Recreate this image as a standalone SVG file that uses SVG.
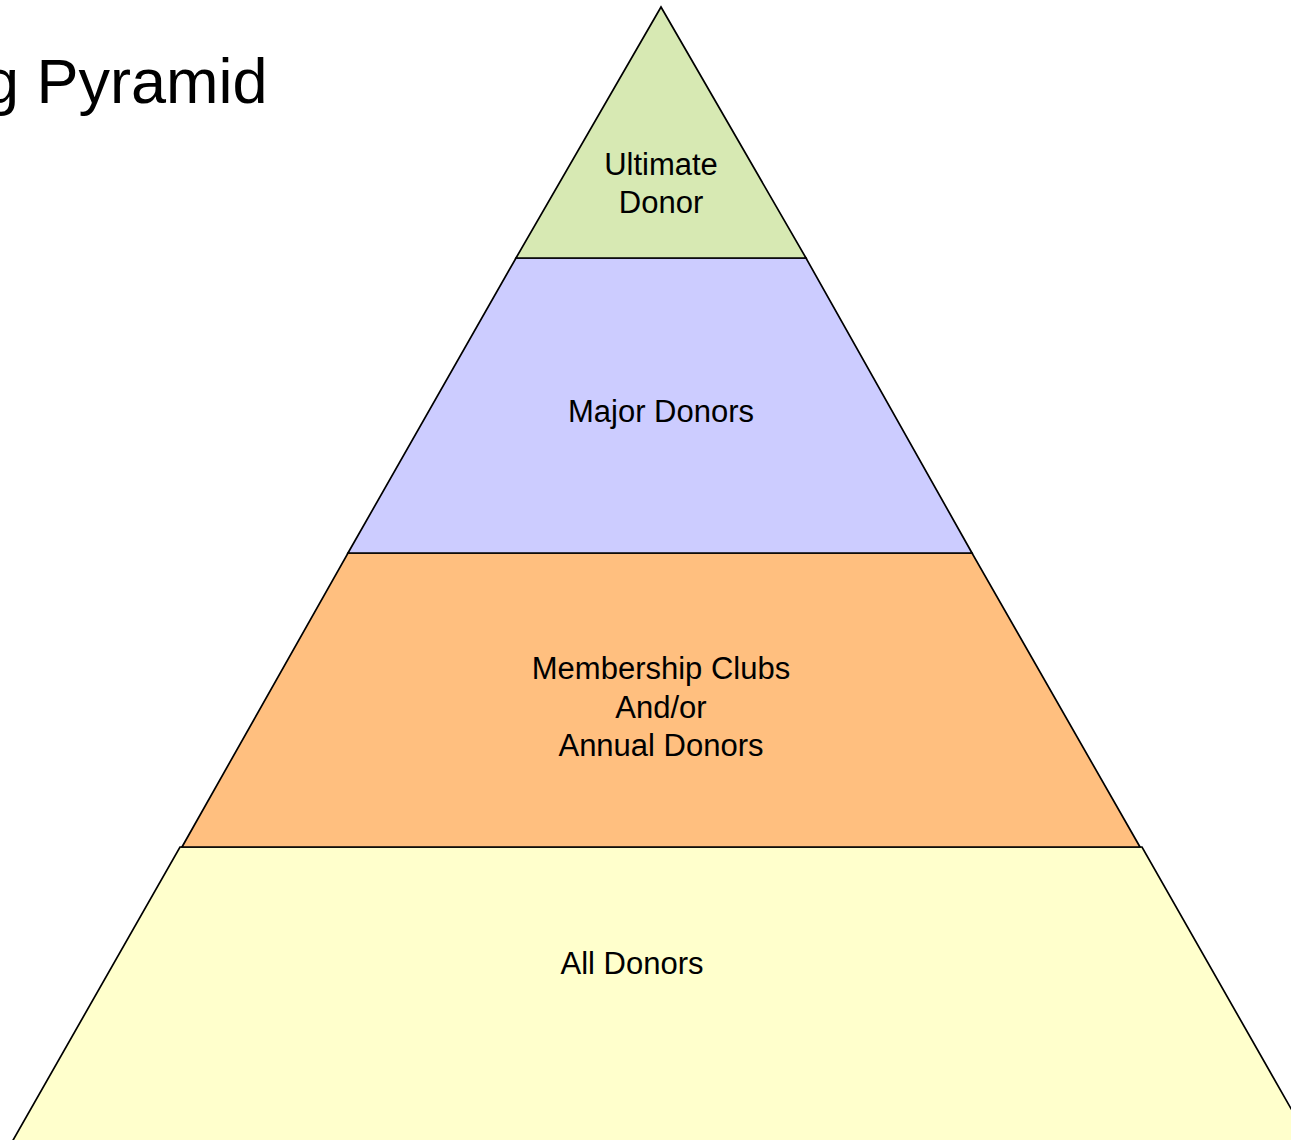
<svg xmlns="http://www.w3.org/2000/svg" width="1291" height="1140" viewBox="0 0 1291 1140">
<style>
.tier{stroke:#000;stroke-width:1.7;stroke-linejoin:miter}
.lbl{font-family:"Liberation Sans",Arial,sans-serif;font-size:31px;fill:#000;text-anchor:middle}
.title{font-family:"Liberation Sans",Arial,sans-serif;font-size:63px;fill:#000}
</style>
<rect width="1291" height="1140" fill="#fff"/>
<text class="title" x="-16" y="103">g Pyramid</text>
<g id="all-donors">
<polygon class="tier" fill="#FFFFCC" points="180,847 1142,847 1310,1142 12,1142"/>
<text class="lbl" x="632" y="974">All Donors</text>
</g>
<g id="membership">
<polygon class="tier" fill="#FFBF7F" points="348,553 972,553 1140,847 182,847"/>
<text class="lbl" x="661" y="679">Membership Clubs</text>
<text class="lbl" x="661" y="717.5">And/or</text>
<text class="lbl" x="661" y="756">Annual Donors</text>
</g>
<g id="major-donors">
<polygon class="tier" fill="#CCCCFF" points="516,258 806,258 972,553 348,553"/>
<text class="lbl" x="661" y="422">Major Donors</text>
</g>
<g id="ultimate-donor">
<polygon class="tier" fill="#D7E9B3" points="661,7 806,258 516,258"/>
<text class="lbl" x="661" y="174.5">Ultimate</text>
<text class="lbl" x="661" y="212.5">Donor</text>
</g>
<g id="connectors"/>
</svg>
